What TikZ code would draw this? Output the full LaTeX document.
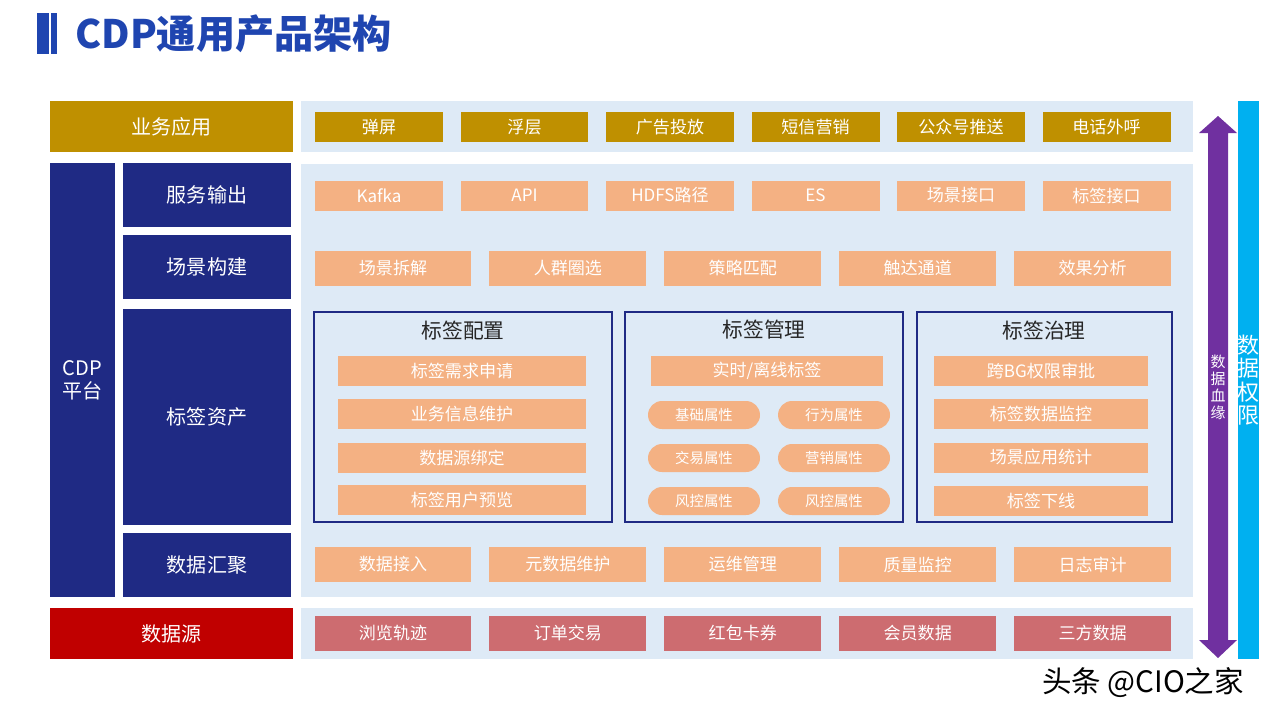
\documentclass[tikz,border=0pt]{standalone}
\usepackage{fontspec}
\setmainfont{Noto Sans CJK SC}
\usepackage{tikz}
\newcommand{\pasa}{145.5}
\newcommand{\pasb}{174.9}
\definecolor{orbiz}{RGB}{191,144,0}
\definecolor{marine}{RGB}{31,42,132}
\definecolor{fondbleu}{RGB}{222,234,246}
\definecolor{saumon}{RGB}{244,177,131}
\definecolor{rougesrc}{RGB}{192,0,0}
\definecolor{rosesrc}{RGB}{205,108,112}
\definecolor{violetsang}{RGB}{112,48,160}
\definecolor{cyanperm}{RGB}{0,176,240}
\definecolor{bleutitre}{RGB}{31,69,176}
\tikzstyle{fond}=[fill=fondbleu]
\tikzstyle{couche}=[inner sep=0, text=white, font=\fontsize{11.4}{13}\selectfont]
\tikzstyle{boite}=[fill=saumon, inner sep=0, text=white, font=\fontsize{9.7}{11}\selectfont]
\tikzstyle{court}=[boite, minimum width=2.56cm, minimum height=0.6cm]
\tikzstyle{long}=[boite, minimum width=3.14cm, minimum height=0.7cm]
\tikzstyle{pilule}=[boite, minimum width=2.24cm, minimum height=0.56cm, rounded corners=0.28cm, font=\fontsize{8.2}{10}\selectfont]
\tikzstyle{cadre}=[draw=marine, line width=0.9pt]
\tikzstyle{titrecadre}=[inner sep=0, text=black!85, font=\fontsize{11.8}{13}\selectfont]
\begin{document}
\begin{tikzpicture}[x=0.02cm, y=-0.02cm]
\useasboundingbox (0,0) rectangle (1280,720);

% titre
\fill[bleutitre] (37,13) rectangle (49,54);
\fill[bleutitre] (51,13) rectangle (57,54);
\node[anchor=west, inner sep=0, text=bleutitre, font=\fontsize{22.3}{24}\selectfont\bfseries] (titre) at (75,34) {CDP通用产品架构};

% fonds
\fill[fond] (301,101) rectangle (1193,152);
\fill[fond] (301,164) rectangle (1193,597);
\fill[fond] (301,608) rectangle (1193,659);

% couches a gauche
\node[couche, fill=orbiz, minimum width=4.86cm, minimum height=1.02cm] (app) at (171.5,126.5) {业务应用};
\node[couche, fill=marine, minimum width=1.3cm, minimum height=8.68cm, align=center] (cdp) at (82.5,380) {CDP\\平台};
\node[couche, fill=marine, minimum width=3.36cm, minimum height=1.28cm] (svc) at (207,195) {服务输出};
\node[couche, fill=marine, minimum width=3.36cm, minimum height=1.28cm] (scn) at (207,267) {场景构建};
\node[couche, fill=marine, minimum width=3.36cm, minimum height=4.32cm] (tag) at (207,417) {标签资产};
\node[couche, fill=marine, minimum width=3.36cm, minimum height=1.28cm] (agg) at (207,565) {数据汇聚};
\node[couche, fill=rougesrc, minimum width=4.86cm, minimum height=1.02cm] (src) at (171.5,633.5) {数据源};

% rangees
\foreach \nom [count=\I from 0] in {弹屏,浮层,广告投放,短信营销,公众号推送,电话外呼}
\node[court, fill=orbiz] (app\I) at (379+\I*\pasa,127) {\nom};

\foreach \nom [count=\I from 0] in {Kafka,API,HDFS路径,ES,场景接口,标签接口}
\node[court] (svc\I) at (379+\I*\pasa,195.5) {\nom};

\foreach \nom [count=\I from 0] in {场景拆解,人群圈选,策略匹配,触达通道,效果分析}
\node[long] (scn\I) at (393+\I*\pasb,268) {\nom};

\foreach \nom [count=\I from 0] in {数据接入,元数据维护,运维管理,质量监控,日志审计}
\node[long] (agg\I) at (393+\I*\pasb,564.5) {\nom};

\foreach \nom [count=\I from 0] in {浏览轨迹,订单交易,红包卡券,会员数据,三方数据}
\node[long, fill=rosesrc] (src\I) at (393+\I*\pasb,633) {\nom};

% cadres du milieu
\draw[cadre] (314,312) rectangle (612,522);
\draw[cadre] (625,312) rectangle (903,522);
\draw[cadre] (917,312) rectangle (1172,522);
\node[titrecadre] (conf) at (463,331) {标签配置};
\node[titrecadre] (gest) at (764,330) {标签管理};
\node[titrecadre] (gouv) at (1044,331) {标签治理};

\foreach \nom/\y [count=\I from 0] in {标签需求申请/371,业务信息维护/414,数据源绑定/457.5,标签用户预览/500}
\node[boite, minimum width=4.96cm, minimum height=0.6cm] (conf\I) at (462,\y) {\nom};

\node[boite, minimum width=4.64cm, minimum height=0.6cm] (gestrt) at (767,371) {实时/离线标签};
\foreach \ga/\dr/\y [count=\I from 0] in {基础属性/行为属性/415,交易属性/营销属性/458,风控属性/风控属性/501}
{\node[pilule] (gestg\I) at (704,\y) {\ga};
\node[pilule] (gestd\I) at (834,\y) {\dr};
}

\foreach \nom/\y [count=\I from 0] in {跨BG权限审批/371,标签数据监控/414,场景应用统计/457.5,标签下线/500.5}
\node[boite, minimum width=4.28cm, minimum height=0.6cm] (gouv\I) at (1041,\y) {\nom};

%血缘 et 权限
\fill[violetsang] (1218,116) -- (1237,133) -- (1228,133) -- (1228,640) -- (1237,640)
  -- (1218,658) -- (1199,640) -- (1208,640) -- (1208,133) -- (1199,133) -- cycle;
\node[inner sep=0, text=white, align=center, font=\fontsize{8.5}{9.7}\selectfont] (sang) at (1218,387.5) {数\\据\\血\\缘};
\fill[cyanperm] (1238,101) rectangle (1259,659);
\node[inner sep=0, text=white, align=center, font=\fontsize{12.5}{13.3}\selectfont] (perm) at (1248.5,380) {数\\据\\权\\限};

\node[inner sep=0, font=\fontsize{16.8}{18}\selectfont] (marque) at (1143,683) {头条 @CIO之家};
\end{tikzpicture}
\end{document}
